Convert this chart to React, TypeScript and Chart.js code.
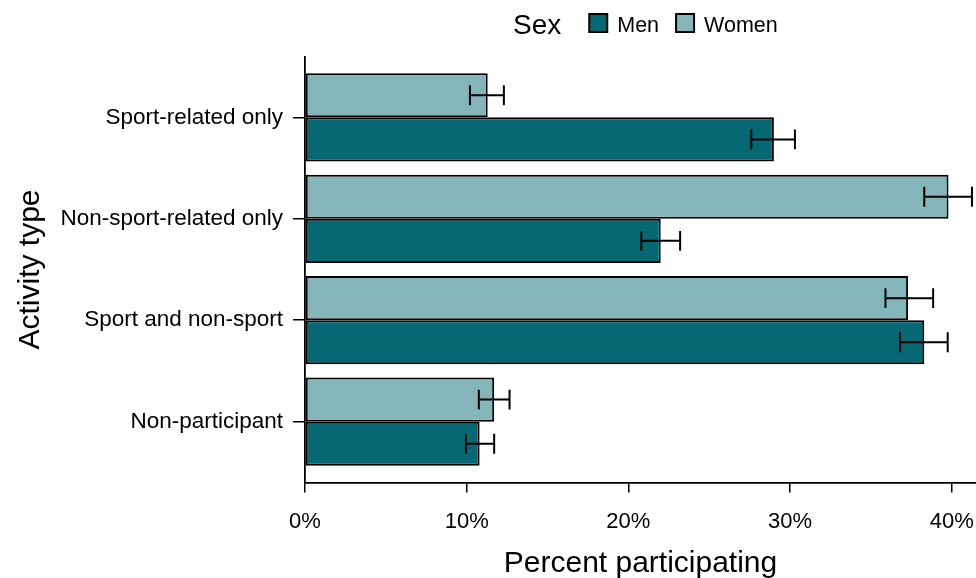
import React, { useEffect, useRef } from "react";
import { Chart, registerables } from "chart.js";

Chart.register(...registerables);

const categories = [
  "Sport-related only",
  "Non-sport-related only",
  "Sport and non-sport",
  "Non-participant",
];
const legendTitle = "Sex";
const womenLabel = "Women";
const menLabel = "Men";
const womenValues = [11.3, 39.8, 37.3, 11.7];
const womenLower = [10.2, 38.3, 35.9, 10.75];
const womenUpper = [12.3, 41.25, 38.85, 12.65];
const menValues = [29.0, 22.0, 38.3, 10.8];
const menLower = [27.6, 20.8, 36.8, 9.95];
const menUpper = [30.3, 23.2, 39.75, 11.7];
const xTicks = [0, 10, 20, 30, 40];

const MEN_COLOR = "#066872";
const WOMEN_COLOR = "#84b5b9";
const FONT = "'Liberation Sans', Arial, sans-serif";

export default function App() {
  const ref = useRef<HTMLCanvasElement | null>(null);

  useEffect(() => {
    if (!ref.current) return;
    Chart.defaults.font.family = FONT;
    Chart.defaults.color = "#000";

    const errorBars = {
      id: "errorBars",
      afterDatasetsDraw(chart: any) {
        const ctx = chart.ctx;
        const xs = chart.scales.x;
        const lows = [womenLower, menLower];
        const highs = [womenUpper, menUpper];
        ctx.save();
        ctx.strokeStyle = "#000";
        ctx.lineWidth = 2;
        [0, 1].forEach((d) => {
          const meta = chart.getDatasetMeta(d);
          meta.data.forEach((bar: any, i: number) => {
            const y = bar.y;
            const half = bar.height * 0.225;
            const x1 = xs.getPixelForValue(lows[d][i]);
            const x2 = xs.getPixelForValue(highs[d][i]);
            ctx.beginPath();
            ctx.moveTo(x1, y);
            ctx.lineTo(x2, y);
            ctx.moveTo(x1, y - half);
            ctx.lineTo(x1, y + half);
            ctx.moveTo(x2, y - half);
            ctx.lineTo(x2, y + half);
            ctx.stroke();
          });
        });
        ctx.restore();
      },
    };

    const legendPlugin = {
      id: "customLegend",
      afterDraw(chart: any) {
        const ctx = chart.ctx;
        ctx.save();
        ctx.textBaseline = "middle";
        ctx.textAlign = "left";
        ctx.fillStyle = "#000";
        ctx.font = `28px ${FONT}`;
        let x = 513;
        const cy = 26;
        ctx.fillText(legendTitle, x, cy);
        x += ctx.measureText(legendTitle).width + 28;
        const items = [
          { label: menLabel, color: MEN_COLOR },
          { label: womenLabel, color: WOMEN_COLOR },
        ];
        ctx.font = `21.5px ${FONT}`;
        items.forEach((it) => {
          ctx.fillStyle = it.color;
          ctx.fillRect(x, 14, 18, 18);
          ctx.strokeStyle = "#000";
          ctx.lineWidth = 2;
          ctx.strokeRect(x, 14, 18, 18);
          x += 28;
          ctx.fillStyle = "#000";
          ctx.fillText(it.label, x, cy);
          x += ctx.measureText(it.label).width + 17;
        });
        ctx.restore();
      },
    };

    const chart = new Chart(ref.current, {
      type: "bar",
      data: {
        datasets: [
          {
            label: womenLabel,
            data: categories.map((_, i) => ({ x: womenValues[i], y: i + 1 })),
            backgroundColor: WOMEN_COLOR,
            borderColor: "#000",
            borderWidth: 2,
            borderSkipped: false,
          },
          {
            label: menLabel,
            data: categories.map((_, i) => ({ x: menValues[i], y: i + 1 })),
            backgroundColor: MEN_COLOR,
            borderColor: "#000",
            borderWidth: 2,
            borderSkipped: false,
          },
        ],
      },
      options: {
        indexAxis: "y",
        animation: false,
        responsive: true,
        maintainAspectRatio: false,
        categoryPercentage: 0.87,
        barPercentage: 1,
        layout: { padding: { top: 56.5, right: 0, left: 0, bottom: 0 } },
        plugins: {
          legend: { display: false },
          tooltip: { enabled: false },
        },
        scales: {
          y: {
            type: "linear",
            min: 0.4,
            max: 4.6,
            reverse: true,
            offset: false,
            afterBuildTicks: (s: any) => {
              s.ticks = categories.map((_, i) => ({ value: i + 1 }));
            },
            afterFit: (s: any) => {
              s.width = 305;
              s.paddingTop = 0;
              s.paddingBottom = 0;
            },
            ticks: {
              callback: (v: any) => categories[Math.round(Number(v)) - 1] ?? "",
              font: { size: 22.5 },
              color: "#000",
              padding: 10,
            },
            grid: {
              display: true,
              offset: false,
              drawOnChartArea: false,
              drawTicks: true,
              tickLength: 12,
              color: "#000",
              lineWidth: 1.5,
            },
            border: { display: true, color: "#000", width: 1.8 },
            title: {
              display: true,
              text: "Activity type",
              font: { size: 30 },
              color: "#000",
              padding: { top: 13, bottom: 0 },
            },
          },
          x: {
            type: "linear",
            min: 0,
            max: 41.5,
            afterBuildTicks: (s: any) => {
              s.ticks = xTicks.map((v) => ({ value: v }));
            },
            afterFit: (s: any) => {
              s.height = 95.5;
              s.paddingLeft = 0;
              s.paddingRight = 0;
            },
            ticks: {
              includeBounds: false,
              callback: (v: any) => `${v}%`,
              font: { size: 22 },
              color: "#000",
              padding: 16,
            },
            grid: {
              display: true,
              drawOnChartArea: false,
              drawTicks: true,
              tickLength: 10,
              color: "#000",
              lineWidth: 1.5,
            },
            border: { display: true, color: "#000", width: 1.8 },
            title: {
              display: true,
              text: "Percent participating",
              font: { size: 30 },
              color: "#000",
              padding: { top: 0, bottom: -4 },
            },
          },
        },
      } as any,
      plugins: [errorBars, legendPlugin],
    });
    return () => chart.destroy();
  }, []);

  return (
    <div style={{ position: "absolute", left: 0, top: 0, width: 976, height: 578 }}>
      <canvas ref={ref} />
    </div>
  );
}
